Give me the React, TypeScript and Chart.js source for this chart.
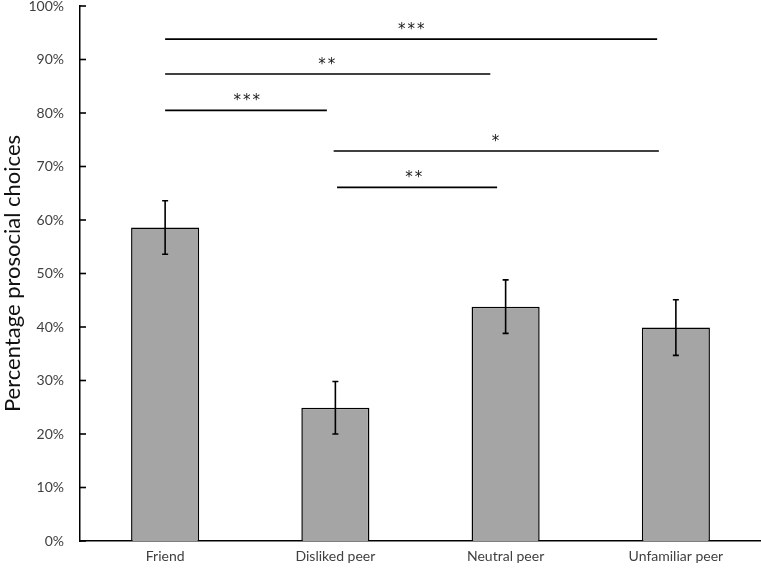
import React, { useEffect, useRef } from "react";
import { Chart, registerables } from "chart.js";

Chart.register(...registerables);

const categories = ["Friend", "Disliked peer", "Neutral peer", "Unfamiliar peer"];
const means = [58.6, 24.9, 43.8, 39.9];
const errors = [5.0, 4.9, 5.0, 5.2];

const sigFrom = [0, 0, 0, 0.99, 1.01];
const sigTo = [2.89, 1.91, 0.95, 2.9, 1.95];
const sigY = [93.8, 87.3, 80.5, 72.9, 66.1];
const sigLabels = ["***", "**", "***", "*", "**"];
const sigLabelX = [1.445, 0.95, 0.48, 1.94, 1.46];

const FONT = 'Lato, "Noto Sans", sans-serif';
const STAR_FONT = '"DejaVu Sans", sans-serif';

const overlayPlugin = {
  id: "overlay",
  afterDatasetsDraw(chart: any) {
    const ctx = chart.ctx;
    const xs = chart.scales.x;
    const ys = chart.scales.y;
    const meta = chart.getDatasetMeta(0);
    ctx.save();
    ctx.strokeStyle = "#000";
    ctx.lineWidth = 1.6;
    // error bars
    meta.data.forEach((bar: any, i: number) => {
      const x = bar.x;
      const yt = ys.getPixelForValue(means[i] + errors[i]);
      const yb = ys.getPixelForValue(means[i] - errors[i]);
      ctx.beginPath();
      ctx.moveTo(x, yt);
      ctx.lineTo(x, yb);
      ctx.moveTo(x - 3, yt);
      ctx.lineTo(x + 3, yt);
      ctx.moveTo(x - 3, yb);
      ctx.lineTo(x + 3, yb);
      ctx.stroke();
    });
    // y ticks inside
    const ax = chart.chartArea.left;
    ys.ticks.forEach((t: any) => {
      const y = ys.getPixelForValue(t.value);
      ctx.beginPath();
      ctx.moveTo(ax, y);
      ctx.lineTo(ax + 6, y);
      ctx.stroke();
    });
    // significance lines
    ctx.fillStyle = "#1a1a1a";
    ctx.font = "15px " + STAR_FONT;
    ctx.textAlign = "center";
    ctx.textBaseline = "alphabetic";
    try { (ctx as any).letterSpacing = "2px"; } catch (e) {}
    sigY.forEach((v, i) => {
      const y = ys.getPixelForValue(v);
      ctx.beginPath();
      ctx.moveTo(xs.getPixelForValue(sigFrom[i]), y);
      ctx.lineTo(xs.getPixelForValue(sigTo[i]), y);
      ctx.stroke();
      ctx.fillText(sigLabels[i], xs.getPixelForValue(sigLabelX[i]) + 1, y - 5);
    });
    ctx.restore();
  },
};

export default function App() {
  const ref = useRef<HTMLCanvasElement>(null);
  useEffect(() => {
    const chart = new Chart(ref.current!, {
      type: "bar",
      data: {
        labels: categories,
        datasets: [
          {
            data: means,
            backgroundColor: "#a5a5a5",
            borderColor: "#000",
            borderWidth: 1.5,
            barPercentage: 0.4,
            categoryPercentage: 1,
          },
        ],
      },
      options: {
        animation: false,
        responsive: false,
        maintainAspectRatio: false,
        layout: { padding: 0 },
        plugins: {
          legend: { display: false },
          tooltip: { enabled: false },
        },
        scales: {
          x: {
            offset: true,
            grid: { display: false, drawTicks: false },
            border: { display: true, color: "#000", width: 1.5 },
            ticks: { color: "#404040", font: { family: FONT, size: 14 }, padding: 7 },
            afterFit(s: any) {
              s.height = 31;
              s.paddingLeft = 0;
              s.paddingRight = 0;
            },
          },
          y: {
            min: 0,
            max: 100,
            grid: { display: false, drawTicks: false },
            border: { display: true, color: "#000", width: 1.5 },
            ticks: {
              stepSize: 10,
              color: "#404040",
              font: { family: FONT, size: 14 },
              padding: 16,
              callback: (v: any) => v + "%",
            },
            title: {
              display: true,
              text: "Percentage prosocial choices",
              color: "#111",
              font: { family: FONT, size: 22 },
              padding: { top: 0, bottom: 0 },
            },
            afterFit(s: any) {
              s.width = 80;
              s.paddingTop = 6;
              s.paddingBottom = 0;
            },
          },
        },
      },
      plugins: [overlayPlugin],
    });
    return () => chart.destroy();
  }, []);
  return (
    <div style={{ position: "absolute", left: 0, top: 0, width: 761, height: 572, background: "#fff" }}>
      <canvas ref={ref} width={761} height={572} />
    </div>
  );
}
